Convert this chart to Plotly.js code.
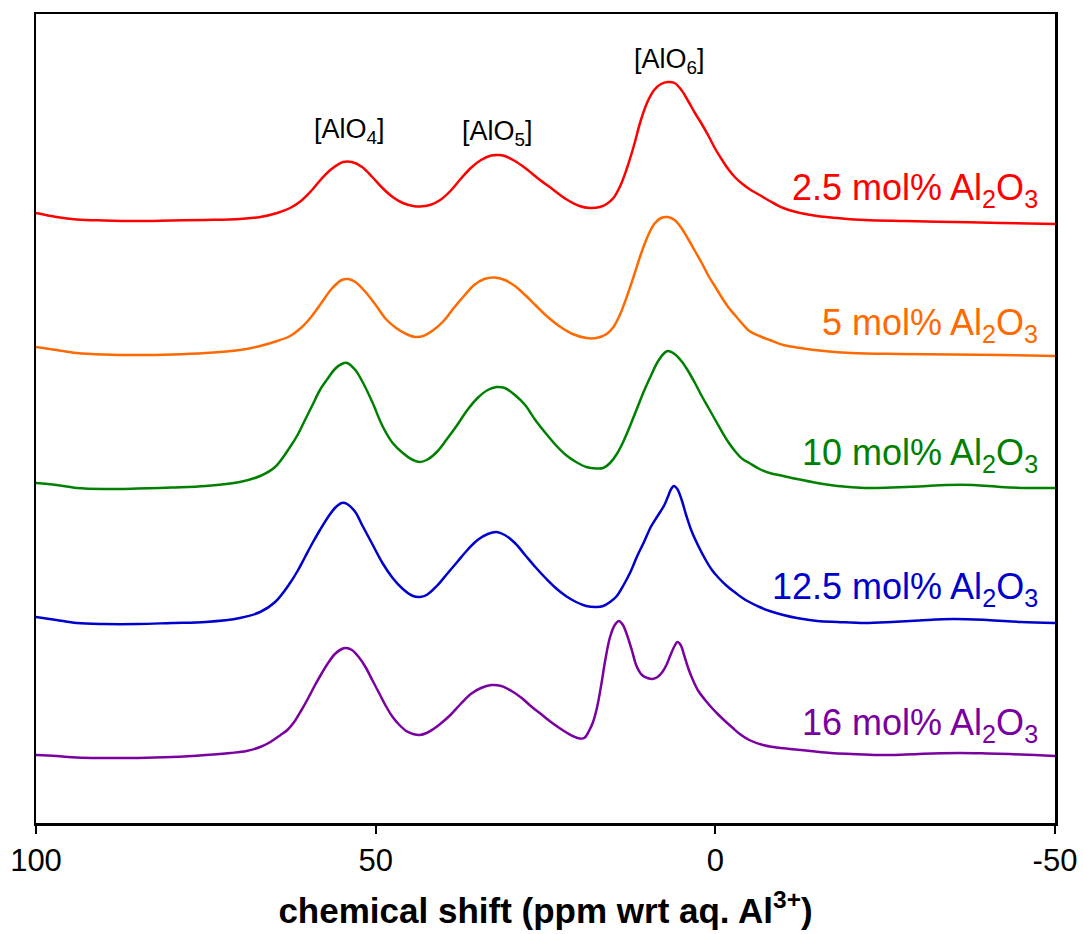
<!DOCTYPE html>
<html>
<head>
<meta charset="utf-8">
<script src="https://cdn.plot.ly/plotly-3.0.1.min.js"></script>
<style>html,body{margin:0;padding:0;background:#fff;}#chart{width:1083px;height:934px;}</style>
</head>
<body>
<div id="chart"></div>
<script>
// ---- data (chemical shift in ppm, intensity above each trace's baseline) ----
const seriesNames = ['2.5 mol% Al<sub>2</sub>O<sub>3</sub>', '5 mol% Al<sub>2</sub>O<sub>3</sub>', '10 mol% Al<sub>2</sub>O<sub>3</sub>', '12.5 mol% Al<sub>2</sub>O<sub>3</sub>', '16 mol% Al<sub>2</sub>O<sub>3</sub>'];

const ppm_2p5 = [100, 97, 94, 90, 85, 80, 75, 70, 67, 64.5, 62.6, 61, 59.5, 58, 56.5, 54.8, 53.5, 52, 50.5, 49, 47.5, 46, 44.5, 43.5, 42, 40.5, 39, 37.5, 36, 34.5, 33, 32, 31, 29.5, 28, 26, 24, 22, 20, 18.5, 17, 16, 15, 14, 13, 12, 11, 10, 9, 8, 7, 6, 5, 4, 3, 2, 1, 0, -1, -2, -3, -4, -5, -6.5, -8, -10, -12.5, -15, -18, -22, -28, -35, -42, -50];
const int_2p5 = [8, 4, 1.5, 0.5, 0, 0.5, 1, 2, 4, 8, 13, 20, 30, 42, 52, 59, 59, 54, 44, 33, 24, 18, 15, 14.5, 16, 21, 30, 42, 53, 61, 65.5, 66, 65, 60, 53, 42, 32, 22, 15, 13, 14, 17, 23, 35, 53, 75, 100, 119, 131, 137, 139, 138, 131, 120, 108, 97, 85, 72, 61, 51, 43, 37, 32, 26, 20, 13, 8, 5, 3, 1, 0, -1, -2, -3];

const ppm_5 = [100, 97, 94, 90, 85, 80, 75, 70, 67, 64.5, 62.6, 61, 59.5, 58, 56.5, 55, 54, 53, 51.5, 50, 48.5, 47, 45.5, 44.2, 43, 41.5, 40, 38.5, 37, 35.5, 34, 32.5, 31, 29.5, 28, 26.5, 25, 23, 21, 19, 17.5, 16, 15, 14, 13, 12, 11, 10, 9, 8, 7, 6, 5, 4, 3, 2, 1, 0, -1, -2, -3, -4, -5, -6.5, -8, -10, -12.5, -16, -20, -27, -35, -42, -50];
const int_5 = [8, 5, 2, 0.5, 0, 0.5, 2, 5, 9, 14, 19, 27, 38, 52, 66, 75, 76, 73, 63, 50, 36, 27, 21, 18, 19, 25, 34, 47, 59, 70, 76, 77.5, 75, 69, 60, 50, 40, 29, 21, 17, 17, 21, 28, 41, 59, 79, 100, 118, 131, 137, 138, 135, 127, 116, 104, 92, 79, 68, 57, 47, 39, 31, 24, 19, 15, 10, 7, 4, 2, 1, 0.5, 0, -1];

const ppm_10 = [100, 97, 94, 90, 85, 80, 75, 70, 67, 64.8, 62.6, 61.5, 60.4, 59.3, 58.2, 57, 56, 55, 54.2, 53, 52, 50.5, 49, 47.5, 46, 44.5, 43.5, 42.5, 41, 39.5, 38, 36.5, 35, 33.5, 32.2, 31, 29.5, 28, 26.5, 25, 23.5, 22, 20.5, 19, 17.5, 16.5, 15.5, 14.5, 13.5, 12.5, 11.5, 10.5, 9.5, 8.5, 7.5, 7, 6, 5, 4, 3, 2, 1, 0, -1, -2, -3, -4, -5, -6.5, -8, -10, -12, -15, -18, -22, -26, -30, -34, -38, -42, -46, -50];
const int_10 = [5, 3, 0, -1, -0.5, 0.5, 2, 6, 12, 21, 41, 53, 68, 83, 98, 110, 119, 124, 125, 118, 107, 86, 62, 45, 35, 28, 26, 28, 36, 49, 63, 78, 90, 98, 101, 100, 93, 83, 68, 55, 43, 33, 26, 21, 19.5, 20, 25, 34, 47, 63, 80, 97, 112, 126, 135, 137, 134, 127, 117, 105, 92, 80, 68, 56, 45, 36, 29, 25, 19, 15, 12, 9, 5, 2, 0, 0.5, 1.5, 3, 3, 1, 0, 0];

const ppm_12p5 = [100, 97, 94, 90, 85, 80, 75, 70, 67, 64.8, 62.6, 61.5, 60.4, 59.3, 58.2, 57, 56, 55, 54.2, 53, 52, 50.5, 49, 47.5, 46, 44.5, 43.5, 42.5, 41, 39.5, 38, 36.5, 35, 33.5, 32.2, 31, 29.5, 28, 26.5, 25, 23.5, 22, 20.5, 19, 17.5, 16.5, 15.5, 14.5, 13.5, 12.5, 11.5, 10.5, 9.5, 8.5, 7.5, 7, 6.5, 6.1, 5.6, 5, 4.3, 3.5, 2.5, 1.5, 0.5, -0.5, -1.7, -3, -4, -5, -6.5, -8, -10, -12, -15, -18, -22, -26, -30, -35, -40, -45, -50];
const int_12p5 = [6, 3, 0, -1, -1, 0, 1, 5, 11, 21, 40, 52, 66, 80, 93, 106, 115, 120, 119, 111, 98, 79, 60, 45, 34, 27, 26, 28, 37, 49, 61, 73, 83, 89, 91, 88, 80, 68, 56, 45, 35, 27, 21, 17, 16, 17, 21, 27, 38, 51, 67, 81, 96, 107, 118, 126, 134, 137, 134, 124, 108, 92, 77, 64, 53, 45, 37, 30, 25, 21, 16, 12, 8, 5, 2, 1, 0, 1, 2.5, 4, 3, 1, 0];

const ppm_16 = [100, 97, 94, 90, 85, 80, 75, 71.4, 69, 67, 65.5, 64, 63, 62, 61, 60, 59, 58, 57, 56, 55, 54.4, 53.5, 52.5, 51.5, 50.5, 49.5, 48.5, 47.5, 46.5, 45.5, 44.5, 43.5, 42.5, 41.5, 40.5, 39, 37.5, 36, 34.5, 33, 31.5, 30, 28.5, 27, 25.5, 24, 22.5, 21, 20, 19.3, 18.6, 18, 17.4, 16.8, 16.2, 15.5, 14.8, 14.2, 13.6, 13, 12.3, 11.6, 10.8, 10, 9.3, 8.5, 7.8, 7.2, 6.6, 6, 5.6, 5.1, 4.6, 4, 3.3, 2.5, 1.5, 0.5, -0.5, -1.5, -2.5, -3.6, -5, -7, -9, -11, -14, -17, -20, -24, -28, -32, -36, -40, -45, -50];
const int_16 = [0, -1, -2.5, -3, -3, -2, 0, 2, 4, 8, 13, 20, 25, 33, 44, 56, 69, 81, 92, 101, 106, 107, 105, 98, 88, 75, 62, 49, 38, 30, 24, 21, 20, 22, 26, 31, 40, 51, 61, 67, 70, 69, 64, 57, 48, 40, 32, 25, 19, 16.5, 17, 24, 33, 48, 70, 95, 118, 130, 134, 130, 120, 105, 89, 80, 77, 76, 78, 83, 90, 100, 109, 113, 110, 100, 87, 75, 64, 55, 47, 40, 33.5, 27.5, 21, 15, 10, 7.5, 6, 4, 2, 1, 0, 0.5, 1.5, 2, 1.5, 0.5, -1];

const tickValues = [100, 50, 0, -50];
const tickLabels = ['100', '50', '0', '-50'];
const peakLabels = ['[AlO<sub>4</sub>]', '[AlO<sub>5</sub>]', '[AlO<sub>6</sub>]'];
const peakPositions = [53.8, 32.1, 6.8];

// ---- presentation ----
const offsets = [602, 468, 335, 200, 68];
const colors = ['#ff0000', '#ff6a00', '#008000', '#0000cc', '#7a00a0'];
const xs = [ppm_2p5, ppm_5, ppm_10, ppm_12p5, ppm_16];
const ys = [int_2p5, int_5, int_10, int_12p5, int_16];

const traces = xs.map((x, i) => ({
  x: x,
  y: ys[i].map(v => v + offsets[i]),
  type: 'scatter',
  mode: 'lines',
  line: {color: colors[i], width: 2.5, shape: 'spline', smoothing: 1, simplify: false},
  hoverinfo: 'skip',
  showlegend: false
}));

const font = 'Liberation Sans, Arial, Helvetica, sans-serif';
const labelY = [633, 498, 368, 234, 98];
const annotations = seriesNames.map((t, i) => ({
  x: -47.8, y: labelY[i], xref: 'x', yref: 'y', text: t, showarrow: false,
  xanchor: 'right', yanchor: 'middle', font: {family: font, size: 36, color: colors[i]}
}));
const peakY = [692, 690, 762];
peakLabels.forEach((t, i) => annotations.push({
  x: peakPositions[i], y: peakY[i], xref: 'x', yref: 'y', text: t, showarrow: false,
  xanchor: 'center', yanchor: 'middle', font: {family: font, size: 27, color: '#000'}
}));

const layout = {
  width: 1083, height: 934,
  margin: {l: 36, r: 28, t: 14, b: 111},
  paper_bgcolor: '#fff', plot_bgcolor: '#fff',
  font: {family: font, color: '#000'},
  xaxis: {
    range: [100, -50], tickmode: 'array', tickvals: tickValues, ticktext: tickLabels,
    ticks: 'outside', ticklen: 8, tickwidth: 2, tickcolor: '#000',
    showline: true, linewidth: 2.5, linecolor: '#000', mirror: true,
    showgrid: false, zeroline: false,
    tickfont: {family: font, size: 31, color: '#000'},
    title: {text: '<b>chemical shift (ppm wrt aq. Al<sup>3+</sup>)</b>', font: {family: font, size: 35, color: '#000'}, standoff: 22}
  },
  yaxis: {
    range: [0, 809], showticklabels: false, ticks: '',
    showline: true, linewidth: 2.5, linecolor: '#000', mirror: true,
    showgrid: false, zeroline: false
  },
  annotations: annotations
};

Plotly.newPlot('chart', traces, layout, {displayModeBar: false, staticPlot: true});
</script>
</body>
</html>
